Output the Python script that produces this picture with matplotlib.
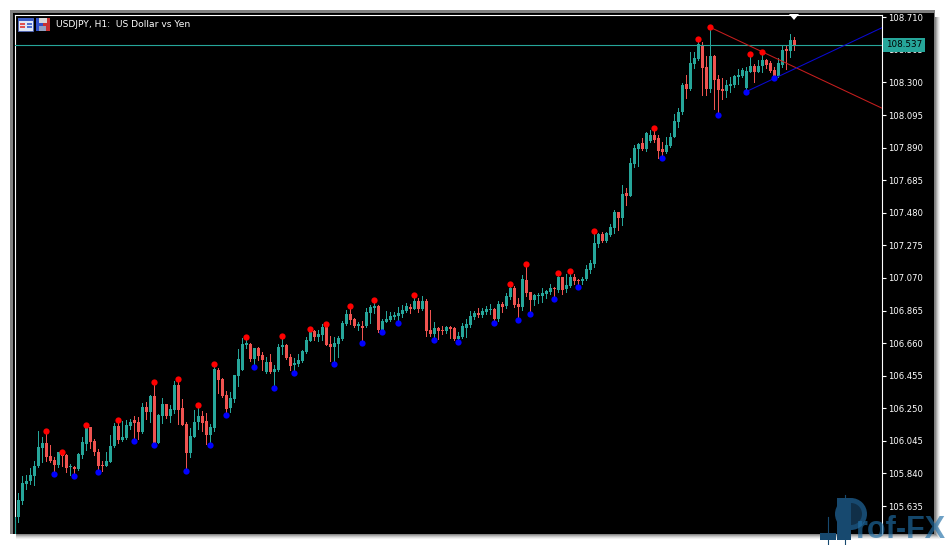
"""USDJPY H1 candlestick chart with fractal pivots and trend lines."""

import matplotlib
matplotlib.use("Agg")
import matplotlib.pyplot as plt
from matplotlib.patches import Circle, Polygon, Rectangle, Wedge

W, H = 947, 545

opens = [
    105.462, 105.567, 105.666, 105.775, 105.792, 105.823, 105.886, 106.002, 106.029, 105.949,
    105.924, 105.893, 105.966, 105.956, 105.878, 105.882, 105.867, 105.956, 106.025, 106.130,
    106.044, 105.974, 105.893, 105.886, 105.911, 106.012, 106.138, 106.050, 106.063, 106.138,
    106.176, 106.163, 106.100, 106.258, 106.226, 106.327, 106.033, 106.201, 106.277, 106.201,
    106.239, 106.397, 106.252, 106.151, 105.966, 106.071, 106.163, 106.201, 106.170, 106.082,
    106.128, 106.491, 106.434, 106.334, 106.250, 106.308, 106.452, 106.494, 106.650, 106.654,
    106.559, 106.627, 106.585, 106.477, 106.540, 106.479, 106.490, 106.635, 106.648, 106.572,
    106.521, 106.528, 106.547, 106.603, 106.675, 106.736, 106.700, 106.711, 106.763, 106.654,
    106.635, 106.654, 106.685, 106.782, 106.843, 106.809, 106.769, 106.767, 106.767, 106.849,
    106.881, 106.893, 106.742, 106.795, 106.805, 106.822, 106.830, 106.843, 106.864, 106.889,
    106.876, 106.925, 106.873, 106.924, 106.741, 106.720, 106.754, 106.743, 106.737, 106.762,
    106.754, 106.684, 106.699, 106.752, 106.773, 106.823, 106.848, 106.835, 106.854, 106.869,
    106.873, 106.810, 106.905, 106.892, 106.949, 107.006, 106.905, 106.886, 107.056, 106.980,
    106.930, 106.957, 106.955, 106.970, 106.980, 107.006, 106.993, 107.075, 107.000, 107.018,
    107.075, 107.054, 107.050, 107.062, 107.119, 107.159, 107.283, 107.346, 107.302, 107.339,
    107.384, 107.484, 107.447, 107.602, 107.587, 107.787, 107.881, 107.919, 107.881, 107.932,
    107.970, 107.949, 107.881, 107.860, 107.900, 107.958, 108.053, 108.116, 108.289, 108.258,
    108.417, 108.445, 108.531, 108.398, 108.258, 108.468, 108.321, 108.258, 108.245, 108.277,
    108.283, 108.335, 108.340, 108.266, 108.367, 108.403, 108.367, 108.403, 108.440, 108.424,
    108.378, 108.340, 108.413, 108.508, 108.499, 108.566,
]
closes = [
    105.567, 105.672, 105.783, 105.792, 105.830, 105.886, 106.006, 106.029, 105.945, 105.920,
    105.893, 105.974, 105.949, 105.874, 105.882, 105.869, 105.962, 106.037, 106.130, 106.037,
    105.974, 105.886, 105.886, 105.918, 106.012, 106.138, 106.050, 106.069, 106.145, 106.166,
    106.159, 106.100, 106.258, 106.226, 106.327, 106.029, 106.208, 106.277, 106.201, 106.245,
    106.397, 106.239, 106.147, 105.966, 106.075, 106.166, 106.201, 106.159, 106.082, 106.132,
    106.499, 106.428, 106.327, 106.243, 106.313, 106.460, 106.559, 106.654, 106.658, 106.559,
    106.627, 106.578, 106.553, 106.540, 106.479, 106.498, 106.635, 106.648, 106.566, 106.515,
    106.534, 106.551, 106.610, 106.679, 106.732, 106.700, 106.717, 106.761, 106.648, 106.635,
    106.660, 106.690, 106.786, 106.843, 106.805, 106.769, 106.780, 106.757, 106.855, 106.887,
    106.891, 106.742, 106.801, 106.809, 106.830, 106.837, 106.851, 106.868, 106.893, 106.876,
    106.925, 106.876, 106.924, 106.735, 106.720, 106.754, 106.737, 106.737, 106.762, 106.749,
    106.684, 106.703, 106.766, 106.779, 106.829, 106.848, 106.835, 106.861, 106.873, 106.873,
    106.810, 106.905, 106.886, 106.955, 107.008, 106.899, 106.886, 107.062, 106.976, 106.930,
    106.961, 106.961, 106.974, 106.987, 107.006, 107.001, 107.075, 106.993, 107.024, 107.075,
    107.050, 107.050, 107.062, 107.125, 107.163, 107.289, 107.346, 107.302, 107.350, 107.390,
    107.484, 107.447, 107.598, 107.585, 107.793, 107.888, 107.913, 107.881, 107.980, 107.970,
    107.938, 107.871, 107.860, 107.906, 107.959, 108.057, 108.116, 108.283, 108.262, 108.420,
    108.451, 108.539, 108.392, 108.258, 108.466, 108.317, 108.252, 108.245, 108.283, 108.289,
    108.340, 108.346, 108.378, 108.371, 108.403, 108.367, 108.403, 108.440, 108.413, 108.371,
    108.340, 108.424, 108.503, 108.499, 108.566, 108.529,
]
highs = [
    105.573, 105.714, 105.823, 105.830, 105.872, 105.918, 106.107, 106.071, 106.109, 106.016,
    105.941, 105.977, 105.977, 105.960, 105.897, 105.886, 105.966, 106.071, 106.142, 106.134,
    106.056, 105.991, 105.920, 105.974, 106.079, 106.155, 106.174, 106.170, 106.176, 106.180,
    106.201, 106.193, 106.281, 106.292, 106.334, 106.413, 106.214, 106.313, 106.277, 106.271,
    106.422, 106.432, 106.306, 106.166, 106.123, 106.239, 106.268, 106.235, 106.218, 106.151,
    106.527, 106.502, 106.439, 106.359, 106.355, 106.460, 106.620, 106.690, 106.696, 106.658,
    106.627, 106.633, 106.606, 106.570, 106.589, 106.521, 106.652, 106.702, 106.652, 106.591,
    106.568, 106.591, 106.616, 106.700, 106.746, 106.742, 106.742, 106.780, 106.778, 106.706,
    106.700, 106.704, 106.801, 106.868, 106.891, 106.816, 106.795, 106.799, 106.879, 106.900,
    106.929, 106.900, 106.809, 106.862, 106.858, 106.853, 106.885, 106.900, 106.910, 106.906,
    106.960, 106.946, 106.955, 106.940, 106.867, 106.791, 106.762, 106.768, 106.766, 106.766,
    106.762, 106.730, 106.787, 106.814, 106.859, 106.859, 106.884, 106.880, 106.892, 106.903,
    106.884, 106.926, 106.917, 106.976, 107.035, 107.018, 106.947, 107.088, 107.155, 106.980,
    106.972, 106.978, 107.006, 106.997, 107.029, 107.010, 107.104, 107.075, 107.094, 107.111,
    107.098, 107.064, 107.073, 107.151, 107.182, 107.363, 107.350, 107.358, 107.356, 107.409,
    107.497, 107.484, 107.654, 107.633, 107.822, 107.907, 107.917, 107.948, 107.986, 108.001,
    108.012, 107.970, 107.927, 107.959, 107.980, 108.101, 108.137, 108.294, 108.346, 108.493,
    108.493, 108.573, 108.552, 108.466, 108.646, 108.472, 108.350, 108.325, 108.314, 108.336,
    108.350, 108.382, 108.388, 108.398, 108.476, 108.419, 108.440, 108.492, 108.447, 108.434,
    108.398, 108.451, 108.529, 108.535, 108.608, 108.588,
]
lows = [
    105.462, 105.535, 105.647, 105.741, 105.773, 105.767, 105.882, 105.914, 105.918, 105.914,
    105.834, 105.882, 105.886, 105.851, 105.830, 105.823, 105.861, 105.935, 105.987, 106.002,
    105.956, 105.851, 105.857, 105.886, 105.911, 106.008, 106.033, 106.046, 106.056, 106.119,
    106.044, 106.056, 106.096, 106.182, 106.166, 106.019, 106.029, 106.159, 106.191, 106.163,
    106.222, 106.151, 106.145, 105.853, 105.945, 106.067, 106.119, 106.109, 106.025, 106.016,
    106.109, 106.344, 106.323, 106.208, 106.229, 106.292, 106.389, 106.494, 106.627, 106.547,
    106.507, 106.553, 106.494, 106.469, 106.469, 106.375, 106.486, 106.591, 106.559, 106.494,
    106.469, 106.515, 106.542, 106.595, 106.673, 106.679, 106.675, 106.679, 106.648, 106.547,
    106.526, 106.570, 106.679, 106.773, 106.780, 106.763, 106.742, 106.658, 106.763, 106.784,
    106.847, 106.731, 106.731, 106.790, 106.801, 106.809, 106.784, 106.822, 106.858, 106.847,
    106.872, 106.853, 106.867, 106.705, 106.703, 106.682, 106.684, 106.716, 106.724, 106.695,
    106.682, 106.667, 106.695, 106.699, 106.762, 106.810, 106.825, 106.825, 106.846, 106.846,
    106.789, 106.800, 106.854, 106.882, 106.940, 106.888, 106.804, 106.867, 106.957, 106.846,
    106.899, 106.913, 106.919, 106.945, 106.968, 106.940, 106.982, 106.970, 106.982, 107.010,
    107.031, 107.010, 107.035, 107.056, 107.102, 107.140, 107.262, 107.295, 107.298, 107.333,
    107.354, 107.371, 107.402, 107.528, 107.585, 107.770, 107.774, 107.875, 107.871, 107.923,
    107.927, 107.823, 107.823, 107.854, 107.896, 107.954, 108.017, 108.101, 108.203, 108.254,
    108.388, 108.440, 108.220, 108.220, 108.241, 108.132, 108.094, 108.199, 108.210, 108.241,
    108.272, 108.293, 108.335, 108.243, 108.367, 108.304, 108.363, 108.367, 108.392, 108.367,
    108.326, 108.335, 108.398, 108.384, 108.461, 108.504,
]

# bars carrying a fractal dot
fractal_highs = [8, 12, 18, 26, 35, 41, 46, 50, 58, 67, 74, 78, 84, 90, 100, 124, 128,
                 136, 139, 145, 160, 171, 174, 184, 187]
fractal_lows = [10, 15, 21, 30, 35, 43, 49, 53, 60, 65, 70, 80, 87, 92, 96, 105, 111,
                120, 126, 129, 135, 141, 162, 176, 183, 190]

tick_prices = [108.710, 108.505, 108.300, 108.095, 107.890, 107.685, 107.480, 107.275,
               107.070, 106.865, 106.660, 106.455, 106.250, 106.045, 105.840, 105.635]
last_price = 108.537
resistance_bars = [174, 187]
support_bars = [183, 190]

TEAL = "#26a69a"
RED = "#ef5350"

fig = plt.figure(figsize=(W / 100, H / 100), dpi=100, facecolor="white")

# pixel overlay for the terminal window and decorations
bg = fig.add_axes([0, 0, 1, 1], zorder=0)
bg.set_xlim(0, W)
bg.set_ylim(H, 0)
bg.axis("off")
for k, col in enumerate(["#f2f2f2", "#e0e0e0", "#c8c8c8", "#aaaaaa", "#8a8a8a"]):
    off = 5 - k
    bg.add_patch(Rectangle((16, 17), 919 + off, 517 + off, fc=col, ec="none"))
bg.add_patch(Rectangle((10, 10), 925, 524, fc="#808080", ec="none"))
bg.add_patch(Rectangle((13, 13), 921, 521, fc="black", ec="none"))

ax = fig.add_axes([15 / W, (H - 534) / H, (881.5 - 15) / W, (534 - 14.5) / H], zorder=1)
ax.set_facecolor("black")
# tiny shift so the wick snaps onto the middle pixel of the 3px body
ax.set_xlim(0.128, 216.753)
ax.set_ylim(105.459, 108.7276)

for i in range(len(opens)):
    up = closes[i] >= opens[i]
    col = TEAL if up else RED
    ax.vlines(i, lows[i], highs[i], color=col, lw=0.72, zorder=3, antialiased=False)
    bottom = min(opens[i], closes[i])
    height = abs(closes[i] - opens[i])
    ax.bar(i, max(height, 0.006), bottom=bottom, width=0.75, color=col, lw=0,
           zorder=4, antialiased=False)

ax.axhline(last_price, color=TEAL, lw=0.8, zorder=5)
ax.plot(fractal_highs, [highs[i] for i in fractal_highs], "o", color="#ff0000", ms=4.5, mew=0, zorder=7)
ax.plot(fractal_lows, [lows[i] for i in fractal_lows], "o", color="#0000ff", ms=4.5, mew=0, zorder=7)

# trend lines run through two pivots out to the right edge
x_end = ax.get_xlim()[1]
a, b = resistance_bars
slope = (highs[b] - highs[a]) / (b - a)
ax.plot([a, x_end], [highs[a], highs[a] + slope * (x_end - a)], color="#c81e1e", lw=0.75, zorder=6)
a, b = support_bars
slope = (lows[b] - lows[a]) / (b - a)
ax.plot([a, x_end], [lows[a], lows[a] + slope * (x_end - a)], color="#0a0ad2", lw=0.75, zorder=6)

for side in ["left", "top", "right"]:
    ax.spines[side].set_color("white")
    ax.spines[side].set_linewidth(0.8)
ax.spines["bottom"].set_visible(False)
ax.set_xticks([])
ax.yaxis.tick_right()
ax.set_yticks(tick_prices)
ax.set_yticklabels([f"{p:.3f}" for p in tick_prices])
ax.tick_params(axis="y", colors="white", length=3, width=0.8, pad=2, labelsize=6.1)

# current price tag over the tick labels
ax.annotate(f"{last_price:.3f}", xy=(1, last_price), xycoords=("axes fraction", "data"),
            xytext=(4.5, 0), textcoords="offset pixels", color="black", fontsize=6.3,
            va="center", ha="left", annotation_clip=False, zorder=9,
            bbox=dict(boxstyle="square,pad=0.3", fc=TEAL, ec="none"))

# marker above the last bar
fg = fig.add_axes([0, 0, 1, 1], zorder=2)
fg.set_xlim(0, W)
fg.set_ylim(H, 0)
fg.axis("off")
fg.patch.set_alpha(0)
fg.add_patch(Polygon([(789, 14), (799, 14), (794, 20)], fc="white", ec="none"))

# chart title and its two icons
fg.text(55.5, 24.5, "USDJPY, H1:  US Dollar vs Yen", color="white", fontsize=6.6, va="center")
fg.add_patch(Rectangle((18, 18), 15, 13, fc="#dfe6f5", ec="#4a62b8", lw=0.6))
fg.add_patch(Rectangle((18, 18), 15, 3, fc="#3b5bc4", ec="none"))
fg.add_patch(Rectangle((20, 22.5), 5, 2, fc="#e05050", ec="none"))
fg.add_patch(Rectangle((26.5, 22.5), 5, 2, fc="#5070d0", ec="none"))
fg.add_patch(Rectangle((20, 26), 5, 2, fc="#e05050", ec="none"))
fg.add_patch(Rectangle((26.5, 26), 5, 2, fc="#5070d0", ec="none"))
fg.add_patch(Rectangle((36, 18), 7, 13, fc="#3050c8", ec="none"))
fg.add_patch(Rectangle((43, 18), 7, 13, fc="#c83030", ec="none"))
fg.add_patch(Rectangle((39, 18), 8, 5, fc="#d8d8d8", ec="none"))
fg.add_patch(Rectangle((39, 26), 7, 5, fc="#90a0c0", ec="none"))

# watermark
mark = "#17496f"
for x, top, bot in [(828, 517, 545), (845, 495, 545)]:
    fg.plot([x, x], [top, bot], color=mark, lw=0.8)
fg.add_patch(Rectangle((820, 533), 16, 7, fc=mark, ec="none"))
fg.add_patch(Circle((851, 514), 16, fc=mark, ec="none"))
fg.add_patch(Rectangle((837, 498), 14, 42, fc=mark, ec="none"))
fg.add_patch(Wedge((851, 514), 11, 270, 360, fc="#102f48", ec="none"))
fg.add_patch(Wedge((851, 514), 11, 0, 90, fc="#102f48", ec="none"))
fg.text(856, 538, "rof-FX", color="#1f6ea6", alpha=0.65, fontsize=22, fontweight="bold",
        family="Liberation Sans", va="baseline")

fig.savefig("out.png", dpi=100)
